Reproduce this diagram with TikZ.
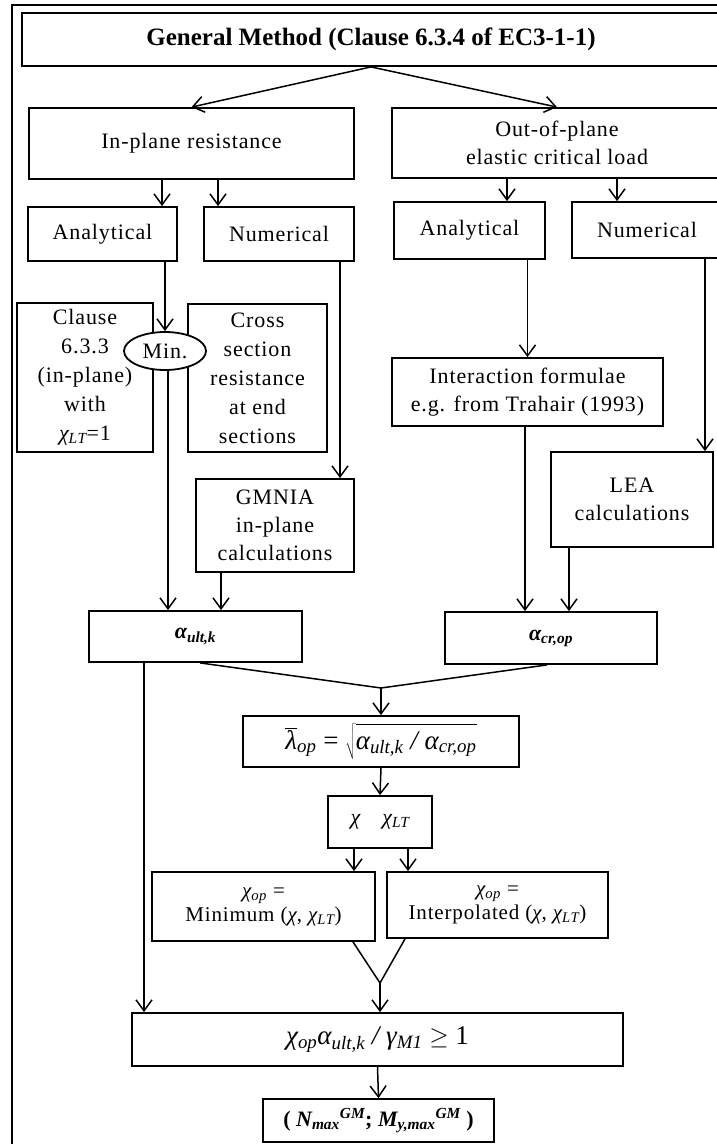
\documentclass[tikz,border=0pt]{standalone}
\usepackage{fontspec}
\setmainfont{Liberation Serif}
\newfontfamily\spacedfont{Liberation Serif}[LetterSpace=4]
\usetikzlibrary{arrows.meta,shapes.geometric}
\newcommand{\gk}[1]{{\itshape #1}}
\begin{document}
\begin{tikzpicture}[x=1pt,y=-1pt,
  box/.style={draw, line width=1.8pt, inner sep=0pt, align=center, fill=white,
    font=\fontsize{22}{28}\selectfont\spacedfont},
  arr/.style={-{Straight Barb[length=11pt,width=16pt]}, line width=1.5pt},
  ln/.style={line width=1.5pt, line join=miter}]
\useasboundingbox (0,0) rectangle (717,1144);
% outer frame
\draw[line width=2.4pt] (12,5) rectangle (730,1155);

% boxes
\node[box, minimum width=698pt, minimum height=53pt, font=\fontsize{25}{30}\selectfont\bfseries] (title) at (371,39.5) {General Method (Clause 6.3.4 of EC3-1-1)};
\node[box, minimum width=325pt, minimum height=71pt] (inplane) at (191.5,143.5) {In-plane resistance};
\node[box, minimum width=330pt, minimum height=70pt] (outplane) at (557,143) {Out-of-plane\\elastic critical load};
\node[box, minimum width=149pt, minimum height=54pt] (anaL) at (102.5,234) {Analytical};
\node[box, minimum width=150pt, minimum height=54pt] (numL) at (279,234) {Numerical};
\node[box, minimum width=151pt, minimum height=57pt] (anaR) at (469.5,230.5) {Analytical};
\node[box, minimum width=150pt, minimum height=56pt] (numR) at (647,230) {Numerical};
\node[box, minimum width=136pt, minimum height=149pt, font=\fontsize{22}{29}\selectfont\spacedfont] (clause) at (85,377.5) {Clause\\6.3.3\\(in-plane)\\with\\\gk{χ\textsubscript{LT}}=1};
\node[box, minimum width=139pt, minimum height=148pt, font=\fontsize{22}{29}\selectfont\spacedfont] (cross) at (257.5,378) {Cross\\section\\resistance\\at end\\sections};
\node[draw, ellipse, fill=white, line width=1.8pt, minimum width=82pt, minimum height=38pt, inner sep=0pt, font=\fontsize{22}{28}\selectfont\spacedfont] (mn) at (165,351) {Min.};
\node[box, minimum width=158pt, minimum height=93pt] (gmnia) at (275,525.5) {GMNIA\\in-plane\\calculations};
\node[box, minimum width=271pt, minimum height=68pt] (inter) at (527.5,392) {Interaction formulae\\e.g. from Trahair (1993)};
\node[box, minimum width=162pt, minimum height=95pt] (lea) at (632,499.5) {LEA\\calculations};
\node[box, minimum width=213pt, minimum height=51pt, font=\fontsize{22}{26}\selectfont\bfseries\itshape] (ault) at (195.5,636.5) {α\textsubscript{ult,k}};
\node[box, minimum width=212pt, minimum height=52pt, font=\fontsize{22}{26}\selectfont\bfseries\itshape] (acr) at (551,638) {α\textsubscript{cr,op}};
\node[box, minimum width=276pt, minimum height=51pt, font=\fontsize{27}{30}\selectfont] (lam) at (381,741.5)
  {$\overline{\hbox{\itshape λ}}$\textsubscript{\itshape op} = $\sqrt{\rule[-0.32em]{0pt}{1.15em}\hbox{\itshape α\textsubscript{ult,k} / α\textsubscript{cr,op}}}$};
\node[box, minimum width=104pt, minimum height=52pt, font=\fontsize{22}{26}\selectfont\itshape] (chi) at (380,822) {χ\quad χ\textsubscript{LT}};
\node[box, minimum width=223pt, minimum height=69pt, font=\fontsize{21}{24}\selectfont\spacedfont] (minop) at (263.5,906.5) {\gk{χ\textsubscript{op}} =\\Minimum (\gk{χ}, \gk{χ\textsubscript{LT}})};
\node[box, minimum width=221pt, minimum height=66pt, font=\fontsize{21}{24}\selectfont\spacedfont] (interp) at (497.5,905) {\gk{χ\textsubscript{op}} =\\Interpolated (\gk{χ}, \gk{χ\textsubscript{LT}})};
\node[box, minimum width=491pt, minimum height=53pt, font=\fontsize{27}{30}\selectfont] (check) at (377.5,1039.5) {\gk{χ\textsubscript{op}α\textsubscript{ult,k} / γ\textsubscript{M1}} $\geq$ 1};
\node[box, minimum width=231pt, minimum height=43pt, font=\fontsize{22}{26}\selectfont\bfseries] (res) at (378.5,1120.5) {( \gk{N\textsubscript{max}\textsuperscript{GM}}; \gk{M\textsubscript{y,max}\textsuperscript{GM}} )};

% merge points
\coordinate (m1) at (381,688);
\coordinate (m2) at (380,983);

% connectors
\draw[arr] (title.south) -- (inplane.north);
\draw[arr] (title.south) -- (outplane.north);
\draw[arr] ([xshift=-29.5pt]inplane.south) -- ([xshift=59.5pt]anaL.north);
\draw[arr] ([xshift=26.5pt]inplane.south) -- ([xshift=-61pt]numL.north);
\draw[arr] ([xshift=-50pt]outplane.south) -- ([xshift=37.5pt]anaR.north);
\draw[arr] ([xshift=60pt]outplane.south) -- ([xshift=-30pt]numR.north);
\draw[arr] ([xshift=62.5pt]anaL.south) -- (mn.north);
\draw[arr] ([xshift=3pt]mn.south) -- ([xshift=-27.5pt]ault.north);
\draw[arr] ([xshift=61pt]numL.south) -- ([xshift=65pt]gmnia.north);
\draw[arr] ([xshift=-54pt]gmnia.south) -- ([xshift=25.5pt]ault.north);
\draw[arr] ([xshift=58pt]anaR.south) -- (inter.north);
\draw[arr] ([xshift=58pt]numR.south) -- ([xshift=73pt]lea.north);
\draw[arr] ([xshift=-2.5pt]inter.south) -- ([xshift=-26pt]acr.north);
\draw[arr] ([xshift=-63pt]lea.south) -- ([xshift=18pt]acr.north);
\draw[ln] ([xshift=4.5pt]ault.south) -- (m1) -- ([xshift=-4pt]acr.south);
\draw[arr] (m1) -- (lam.north);
\draw[arr] (lam.south) -- (chi.north);
\draw[arr] ([xshift=-26pt]chi.south) -- ([xshift=90.5pt]minop.north);
\draw[arr] ([xshift=28pt]chi.south) -- ([xshift=-89.5pt]interp.north);
\draw[ln] ([xshift=89.5pt]minop.south) -- (m2) -- ([xshift=-92.5pt]interp.south);
\draw[arr] (m2) -- ([xshift=2.5pt]check.north);
\draw[arr] ([xshift=-51.5pt]ault.south) -- ([xshift=-233.5pt]check.north);
\draw[arr] (check.south) -- (res.north);
\end{tikzpicture}
\end{document}
